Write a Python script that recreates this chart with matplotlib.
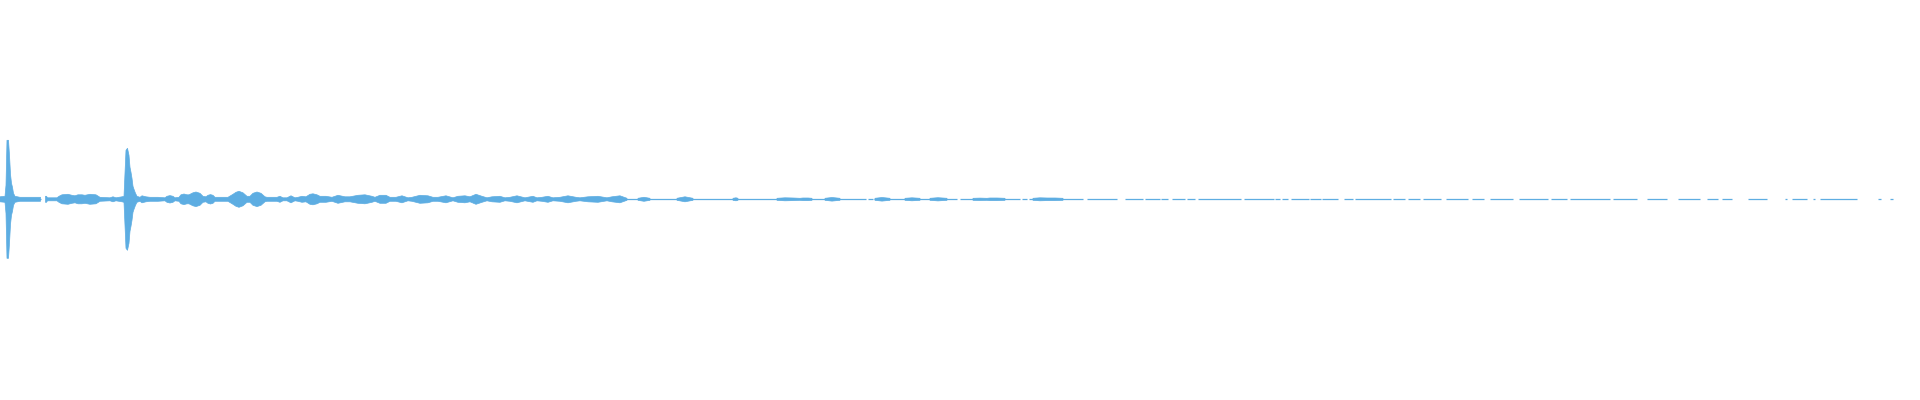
import numpy as np
import matplotlib
matplotlib.use("Agg")
import matplotlib.pyplot as plt

nan = np.nan

# waveform envelope: (time s, peak amplitude, full scale = 1)
# nan marks where the envelope stops (silence or only the thin trace)
envelope = [
    (0.00, 0.0125), (0.05, 0.015), (0.06, 0.07), (0.07, 0.295), (0.085, 0.295),
    (0.095, 0.22), (0.105, 0.125), (0.115, 0.08), (0.125, 0.06), (0.135, 0.03),
    (0.15, 0.015), (0.20, 0.01), (0.40, 0.01), (0.405, 0.01), (0.43, nan),
    (0.455, 0.015), (0.465, 0.015), (0.475, 0.0075), (0.57, 0.0075), (0.59, 0.015),
    (0.62, 0.0225), (0.68, 0.025), (0.72, 0.02), (0.75, 0.0175), (0.78, 0.0225),
    (0.82, 0.0225), (0.85, 0.02), (0.90, 0.025), (0.96, 0.0225), (1.00, 0.01),
    (1.10, 0.0075), (1.13, 0.0125), (1.16, 0.0075), (1.22, 0.0125), (1.24, 0.015),
    (1.25, 0.13), (1.26, 0.245), (1.275, 0.255), (1.29, 0.22), (1.30, 0.16),
    (1.31, 0.135), (1.32, 0.105), (1.33, 0.065), (1.34, 0.05), (1.355, 0.03),
    (1.37, 0.015), (1.40, 0.01), (1.42, 0.0175), (1.46, 0.0125), (1.50, 0.01),
    (1.58, 0.01), (1.65, 0.0075), (1.67, 0.015), (1.70, 0.0185), (1.73, 0.015),
    (1.75, 0.0075), (1.79, 0.01), (1.81, 0.0225), (1.84, 0.0265), (1.87, 0.0225),
    (1.89, 0.0225), (1.93, 0.0325), (1.96, 0.0365), (2.00, 0.03), (2.03, 0.015),
    (2.06, 0.0125), (2.08, 0.02), (2.105, 0.0235), (2.13, 0.02), (2.15, 0.01),
    (2.28, 0.01), (2.33, 0.025), (2.36, 0.035), (2.39, 0.04), (2.43, 0.0325),
    (2.47, 0.015), (2.50, 0.015), (2.53, 0.03), (2.57, 0.0365), (2.61, 0.03),
    (2.65, 0.0125), (2.67, 0.01),
    (2.77, 0.01), (2.80, 0.015), (2.83, 0.0075), (2.87, 0.0075), (2.91, 0.0175),
    (2.95, 0.0075), (2.98, 0.01), (3.02, 0.015), (3.06, 0.0125), (3.10, 0.025),
    (3.13, 0.0275), (3.17, 0.0225), (3.20, 0.015), (3.26, 0.015), (3.32, 0.01),
    (3.38, 0.02), (3.45, 0.0125), (3.50, 0.0125), (3.58, 0.02), (3.65, 0.0225),
    (3.72, 0.015), (3.75, 0.01), (3.80, 0.02), (3.86, 0.02), (3.90, 0.01),
    (3.96, 0.01), (4.02, 0.0175), (4.08, 0.0075), (4.12, 0.01), (4.20, 0.02),
    (4.28, 0.0175), (4.33, 0.01), (4.38, 0.01), (4.46, 0.0175), (4.53, 0.0075),
    (4.58, 0.015), (4.65, 0.0175), (4.70, 0.0125), (4.76, 0.025), (4.82, 0.015),
    (4.87, 0.0075), (4.92, 0.0125), (5.00, 0.015), (5.05, 0.0075), (5.10, 0.01),
    (5.17, 0.0175), (5.25, 0.0075), (5.33, 0.015), (5.37, 0.0075), (5.42, 0.01),
    (5.48, 0.015), (5.53, 0.0075), (5.60, 0.01), (5.68, 0.0175), (5.76, 0.01),
    (5.80, 0.0075), (5.88, 0.0125), (5.98, 0.015), (6.07, 0.0075), (6.12, 0.0125),
    (6.20, 0.0175), (6.27, 0.005), (6.32, nan),
    (6.38, 0.005), (6.44, 0.01), (6.50, 0.005), (6.65, nan),
    (6.77, 0.005), (6.85, 0.0125), (6.93, 0.005), (7.10, nan),
    (7.33, 0.005), (7.36, 0.0075), (7.38, 0.005), (7.55, nan),
    (7.77, 0.005), (7.85, 0.0075), (7.93, 0.0065), (8.00, 0.005), (8.03, 0.0065),
    (8.08, 0.0065), (8.12, 0.005), (8.18, nan),
    (8.25, 0.005), (8.32, 0.009), (8.40, 0.005), (8.60, nan),
    (8.75, 0.005), (8.82, 0.009), (8.90, 0.005), (8.98, nan),
    (9.05, 0.005), (9.12, 0.0075), (9.20, 0.005), (9.25, nan),
    (9.30, 0.005), (9.38, 0.008), (9.47, 0.005), (9.60, nan),
    (9.73, 0.005), (9.80, 0.006), (9.87, 0.005), (9.90, 0.0065), (9.97, 0.0065),
    (10.05, 0.005), (10.20, nan),
    (10.33, 0.005), (10.40, 0.0075), (10.47, 0.0065), (10.55, 0.0065), (10.63, 0.005),
]

# thin trace between the bursts, drawn where the signal is not silent (s)
trace_start = [
    0.00, 0.455, 8.68, 8.74, 9.60, 10.22, 10.29, 10.87, 11.25, 11.45, 11.61, 11.72, 11.87,
    11.98, 12.44, 12.75, 12.82, 12.91, 13.10, 13.22, 13.44, 13.55, 13.93, 14.08, 14.23, 14.46,
    14.72, 14.90, 15.19, 15.51, 15.70, 16.13, 16.47, 16.78, 17.07, 17.22, 17.48, 17.85, 17.92,
    18.13, 18.20, 18.78, 18.90,
]
trace_end = [
    0.405, 8.66, 8.73, 9.57, 10.20, 10.27, 10.83, 11.17, 11.43, 11.60, 11.68, 11.85, 11.95,
    12.41, 12.74, 12.80, 12.88, 13.09, 13.21, 13.38, 13.53, 13.91, 14.05, 14.20, 14.41, 14.68,
    14.84, 15.13, 15.48, 15.67, 16.10, 16.37, 16.67, 17.00, 17.18, 17.32, 17.67, 17.87, 18.07,
    18.15, 18.57, 18.81, 18.93,
]

wave_color = "#5DADE2"

fig = plt.figure(figsize=(19.2, 4), dpi=100)
ax = fig.add_axes([0, 0, 1, 1])

t = np.array([p[0] for p in envelope])
a = np.array([p[1] for p in envelope])
ax.fill_between(t, -a, a, color=wave_color, linewidth=0.5)
ax.hlines(np.zeros(len(trace_start)), trace_start, trace_end, color=wave_color, linewidth=0.9)

ax.set_xlim(0, 19.2)
ax.set_ylim(-1.0035, 0.9965)
ax.axis("off")

fig.savefig("out.png", dpi=100, facecolor="white")
